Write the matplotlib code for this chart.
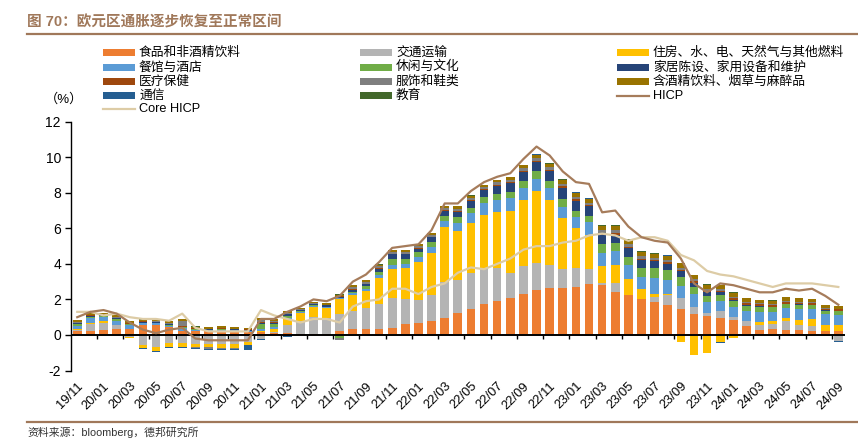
import numpy as np
import pandas as pd
import matplotlib
matplotlib.use('Agg')
import matplotlib.pyplot as plt
from matplotlib.patches import Rectangle
from matplotlib.lines import Line2D
from matplotlib.transforms import ScaledTranslation

plt.rcParams['font.family'] = ['Liberation Sans', 'Noto Sans CJK SC', 'DejaVu Sans']
plt.rcParams['axes.unicode_minus'] = False

# monthly, 2019/11 .. 2024/09
months = pd.date_range('2019-11-01', '2024-09-01', freq='MS').strftime('%y/%m').tolist()

# contributions to euro area HICP y/y (pp)
food = [0.25, 0.25, 0.28, 0.33, 0.35, 0.55, 0.58, 0.42, 0.25, 0.20,
        0.22, 0.22, 0.22, 0.18, 0.15, 0.13, 0.09, 0.08, 0.05, 0.06,
        0.24, 0.32, 0.34, 0.32, 0.41, 0.60, 0.66, 0.79, 0.98, 1.26,
        1.48, 1.74, 1.93, 2.10, 2.29, 2.55, 2.66, 2.66, 2.72, 2.85,
        2.81, 2.44, 2.25, 2.03, 1.88, 1.69, 1.46, 1.20, 1.09, 0.98,
        0.86, 0.52, 0.28, 0.32, 0.28, 0.28, 0.24, 0.24, 0.24]
transport = [0.05, 0.35, 0.38, 0.22, -0.12, -0.55, -0.70, -0.48, -0.48, -0.50,
             -0.50, -0.52, -0.52, -0.40, -0.25, 0.02, 0.47, 0.70, 0.95, 0.88,
             0.94, 1.03, 1.20, 1.45, 1.65, 1.40, 1.31, 1.46, 2.02, 1.83,
             1.99, 2.01, 1.86, 1.40, 1.59, 1.48, 1.28, 1.03, 1.03, 0.86,
             0.09, 0.50, 0.00, -0.05, 0.25, 0.55, 0.60, 0.38, 0.13, 0.37,
             0.15, 0.27, 0.26, 0.30, 0.51, 0.28, 0.27, -0.05, -0.32]
housing = [0.05, 0.08, 0.12, 0.03, -0.05, -0.20, -0.22, -0.20, -0.18, -0.20,
           -0.20, -0.20, -0.20, -0.15, 0.10, 0.17, 0.32, 0.47, 0.60, 0.56,
           0.82, 0.90, 0.95, 1.41, 1.64, 1.75, 2.12, 2.38, 3.06, 2.78,
           2.81, 3.00, 3.11, 3.48, 3.71, 4.09, 3.65, 2.91, 2.25, 1.92,
           1.00, 1.00, 0.88, 0.55, 0.20, 0.05, -0.38, -1.10, -1.00, -0.41,
           -0.15, 0.00, 0.21, 0.17, 0.15, 0.28, 0.39, 0.32, 0.32]
restaurants = [0.15, 0.25, 0.22, 0.22, 0.20, 0.12, 0.08, 0.10, 0.12, 0.08,
               0.05, 0.06, 0.05, 0.05, 0.10, 0.10, 0.06, 0.04, 0.04, 0.05,
               0.08, 0.10, 0.12, 0.22, 0.24, 0.25, 0.31, 0.34, 0.37, 0.45,
               0.56, 0.66, 0.69, 0.71, 0.70, 0.66, 0.66, 0.62, 0.66, 0.70,
               0.69, 0.80, 0.81, 0.70, 0.85, 0.80, 0.72, 0.70, 0.66, 0.58,
               0.59, 0.56, 0.56, 0.52, 0.56, 0.60, 0.54, 0.60, 0.57]
recreation = [0.10, 0.10, 0.05, 0.08, 0.04, 0.03, 0.03, 0.05, 0.05, 0.03,
              0.02, 0.04, 0.03, 0.02, 0.25, 0.20, 0.15, 0.05, 0.04, 0.05,
              -0.18, 0.08, 0.13, 0.15, 0.33, 0.30, 0.25, 0.24, 0.26, 0.30,
              0.32, 0.33, 0.34, 0.37, 0.37, 0.45, 0.42, 0.43, 0.32, 0.37,
              0.53, 0.45, 0.47, 0.50, 0.56, 0.55, 0.50, 0.41, 0.31, 0.32,
              0.29, 0.28, 0.28, 0.25, 0.23, 0.25, 0.25, 0.21, 0.22]
household = [0.05, 0.05, 0.05, 0.06, 0.04, 0.03, 0.03, 0.04, 0.05, 0.03,
             0.03, 0.03, 0.03, 0.03, 0.10, 0.08, 0.08, 0.05, 0.05, 0.06,
             0.08, 0.10, 0.12, 0.15, 0.27, 0.24, 0.19, 0.28, 0.30, 0.32,
             0.38, 0.42, 0.45, 0.51, 0.53, 0.52, 0.54, 0.64, 0.58, 0.55,
             0.51, 0.44, 0.47, 0.43, 0.41, 0.38, 0.30, 0.22, 0.20, 0.15,
             0.10, 0.08, 0.05, 0.04, 0.03, 0.03, 0.02, 0.02, 0.02]
health = [0.03, 0.03, 0.03, 0.03, 0.03, 0.03, 0.03, 0.03, 0.03, 0.03,
          0.03, 0.03, 0.03, 0.03, 0.03, 0.03, 0.03, 0.03, 0.03, 0.03,
          0.03, 0.03, 0.03, 0.04, 0.04, 0.04, 0.04, 0.04, 0.04, 0.05,
          0.05, 0.05, 0.05, 0.05, 0.06, 0.06, 0.07, 0.07, 0.08, 0.08,
          0.08, 0.08, 0.08, 0.08, 0.08, 0.09, 0.09, 0.10, 0.10, 0.10,
          0.10, 0.10, 0.10, 0.10, 0.10, 0.10, 0.10, 0.09, 0.09]
clothing = [0.03, 0.03, 0.02, 0.03, 0.03, 0.00, 0.02, 0.03, 0.30, -0.05,
            -0.08, -0.05, -0.06, -0.03, 0.12, 0.08, 0.04, 0.02, 0.02, 0.02,
            -0.10, 0.15, 0.10, 0.12, 0.10, 0.10, 0.12, 0.10, 0.10, 0.12,
            0.12, 0.10, 0.15, 0.12, 0.15, 0.15, 0.15, 0.15, 0.15, 0.12,
            0.20, 0.17, 0.15, 0.15, 0.10, 0.12, 0.12, 0.12, 0.10, 0.08,
            0.06, 0.05, 0.05, 0.05, 0.05, 0.05, 0.03, 0.03, 0.02]
alcohol = [0.12, 0.12, 0.10, 0.12, 0.10, 0.10, 0.10, 0.10, 0.10, 0.10,
           0.10, 0.10, 0.10, 0.08, 0.10, 0.10, 0.10, 0.08, 0.08, 0.08,
           0.08, 0.10, 0.10, 0.10, 0.08, 0.08, 0.10, 0.10, 0.12, 0.12,
           0.12, 0.12, 0.12, 0.13, 0.15, 0.18, 0.18, 0.20, 0.22, 0.22,
           0.22, 0.24, 0.24, 0.24, 0.24, 0.24, 0.24, 0.24, 0.22, 0.22,
           0.22, 0.22, 0.18, 0.18, 0.20, 0.20, 0.18, 0.18, 0.15]
communication = [-0.02, -0.02, -0.02, -0.02, -0.02, -0.03, -0.05, -0.04, -0.05, -0.05,
                 -0.06, -0.06, -0.06, -0.25, -0.02, -0.02, -0.10, -0.02, -0.02, -0.02,
                 -0.02, -0.02, -0.02, -0.02, -0.02, -0.02, -0.01, -0.01, -0.01, 0.01,
                 0.01, 0.01, 0.01, 0.01, 0.01, 0.02, 0.02, 0.02, 0.02, 0.02,
                 0.02, 0.02, 0.01, 0.01, 0.01, 0.01, 0.01, 0.01, 0.01, -0.02,
                 -0.04, -0.04, -0.02, -0.02, -0.02, -0.02, -0.03, -0.03, -0.10]
education = [0.01, 0.01, 0.01, 0.01, 0.01, 0.01, 0.01, 0.01, 0.01, 0.01,
             0.01, 0.01, 0.01, 0.01, 0.01, 0.01, 0.01, 0.01, 0.01, 0.01,
             0.01, 0.01, 0.01, 0.01, 0.01, 0.01, 0.01, 0.01, 0.01, 0.01,
             0.01, 0.01, 0.01, 0.01, 0.01, 0.02, 0.02, 0.02, 0.02, 0.02,
             0.02, 0.02, 0.02, 0.02, 0.02, 0.02, 0.02, 0.02, 0.02, 0.02,
             0.02, 0.02, 0.02, 0.02, 0.02, 0.02, 0.02, 0.02, 0.02]

hicp = [1.0, 1.3, 1.4, 1.2, 0.7, 0.3, 0.1, 0.3, 0.4, -0.2,
        -0.3, -0.3, -0.3, -0.3, 0.9, 0.9, 1.3, 1.6, 2.0, 1.9,
        2.2, 3.0, 3.4, 4.1, 4.9, 5.0, 5.1, 5.9, 7.4, 7.4,
        8.1, 8.6, 8.9, 9.1, 9.9, 10.6, 10.1, 9.2, 8.6, 8.5,
        6.9, 7.0, 6.1, 5.5, 5.3, 5.2, 4.3, 2.9, 2.4, 2.9,
        2.8, 2.6, 2.4, 2.4, 2.6, 2.5, 2.6, 2.2, 1.7]
core_hicp = [1.3, 1.3, 1.1, 1.2, 1.0, 0.9, 0.9, 0.8, 1.2, 0.4,
             0.2, 0.2, 0.2, 0.2, 1.4, 1.1, 0.9, 0.7, 0.9, 0.9,
             0.7, 1.6, 1.9, 2.0, 2.6, 2.6, 2.3, 2.7, 2.9, 3.5,
             3.8, 3.7, 4.0, 4.3, 4.8, 5.0, 5.0, 5.2, 5.3, 5.6,
             5.7, 5.6, 5.3, 5.5, 5.5, 5.3, 4.5, 4.2, 3.6, 3.4,
             3.3, 3.1, 2.9, 2.7, 2.9, 2.9, 2.9, 2.8, 2.7]

series = [
    ('食品和非酒精饮料', food, '#ED7D31'),
    ('交通运输', transport, '#B4B4B4'),
    ('住房、水、电、天然气与其他燃料', housing, '#FFC000'),
    ('餐馆与酒店', restaurants, '#5B9BD5'),
    ('休闲与文化', recreation, '#70AD47'),
    ('家居陈设、家用设备和维护', household, '#264478'),
    ('医疗保健', health, '#9E480E'),
    ('服饰和鞋类', clothing, '#7F7F7F'),
    ('含酒精饮料、烟草与麻醉品', alcohol, '#997300'),
    ('通信', communication, '#255E91'),
    ('教育', education, '#43682B'),
]
hicp_color = '#A67C5B'
core_color = '#DDCCA6'
brown = '#A0785A'

W, H = 858, 440
fig = plt.figure(figsize=(W / 100, H / 100), dpi=100)
ax = fig.add_axes([70.7 / W, 1 - 370.5 / H, (844.9 - 70.7) / W, (370.5 - 121.7) / H])

x = np.arange(len(months))
pos_base = np.zeros(len(x))
neg_base = np.zeros(len(x))
for name, vals, color in series:
    v = np.array(vals, dtype=float)
    base = np.where(v >= 0, pos_base, neg_base)
    ax.bar(x, v, 0.66, bottom=base, color=color, edgecolor='none', zorder=2)
    pos_base += np.clip(v, 0, None)
    neg_base += np.clip(v, None, 0)

ax.plot(x, core_hicp, color=core_color, lw=1.6, zorder=4)
ax.plot(x, hicp, color=hicp_color, lw=1.6, zorder=5)

# axes styling
ax.set_xlim(-0.5, len(x) - 0.5)
ax.set_ylim(-2, 12)
ax.set_yticks(range(-2, 13, 2))
for s in ['top', 'right', 'bottom']:
    ax.spines[s].set_visible(False)
ax.spines['left'].set_linewidth(1.0)
ax.tick_params(axis='y', length=4, width=1, pad=3, labelsize=10)
ax.axhline(0, color='black', lw=1.4, zorder=3)
ax.vlines(np.arange(1.5, len(x), 2), -0.22, 0, color='black', lw=1, zorder=3)

ax.set_xticks(x[::2])
ax.set_xticklabels(months[::2], fontsize=9.3)
ax.tick_params(axis='x', length=0, pad=10)
offset = ScaledTranslation(4 / 100, 0, fig.dpi_scale_trans)
for lab in ax.get_xticklabels():
    lab.set_rotation(45)
    lab.set_ha('right')
    lab.set_va('center')
    lab.set_rotation_mode('anchor')
    lab.set_transform(lab.get_transform() + offset)

# title, rules, source
fig.text(27 / W, 1 - 22 / H, '图 70：欧元区通胀逐步恢复至正常区间', color=brown,
         fontsize=10.5, fontweight='bold', va='center', ha='left')
fig.add_artist(Line2D([27 / W, 1], [1 - 34.5 / H] * 2, color=brown, lw=1.6))
fig.add_artist(Line2D([27 / W, 1], [1 - 422 / H] * 2, color=brown, lw=1.6))
fig.text(27 / W, 1 - 426.5 / H, '资料来源：bloomberg，德邦研究所', fontsize=7.8,
         va='top', ha='left', color='#333333')
fig.text(45 / W, 1 - 99 / H, '（%）', fontsize=9.5, va='center', ha='left')

# legend drawn by hand, 3 columns
col_x = [103, 360, 617]
row_y = [52.7, 67.3, 81.5, 96, 108.7]
entries = [(name, color, 'bar') for name, _, color in series]
entries += [('HICP', hicp_color, 'line'), ('Core HICP', core_color, 'line')]
for i, (name, color, kind) in enumerate(entries):
    cx = col_x[i % 3]
    cy = 1 - row_y[i // 3] / H
    if kind == 'bar':
        fig.add_artist(Rectangle((cx / W, cy - 3.5 / H), 32 / W, 7 / H,
                                 facecolor=color, edgecolor='none'))
    else:
        fig.add_artist(Line2D([cx / W, (cx + 32) / W], [cy, cy], color=color, lw=1.6))
    fig.text((cx + 36) / W, cy, name, fontsize=9.2, va='center', ha='left')

fig.savefig('out.png', dpi=100)
